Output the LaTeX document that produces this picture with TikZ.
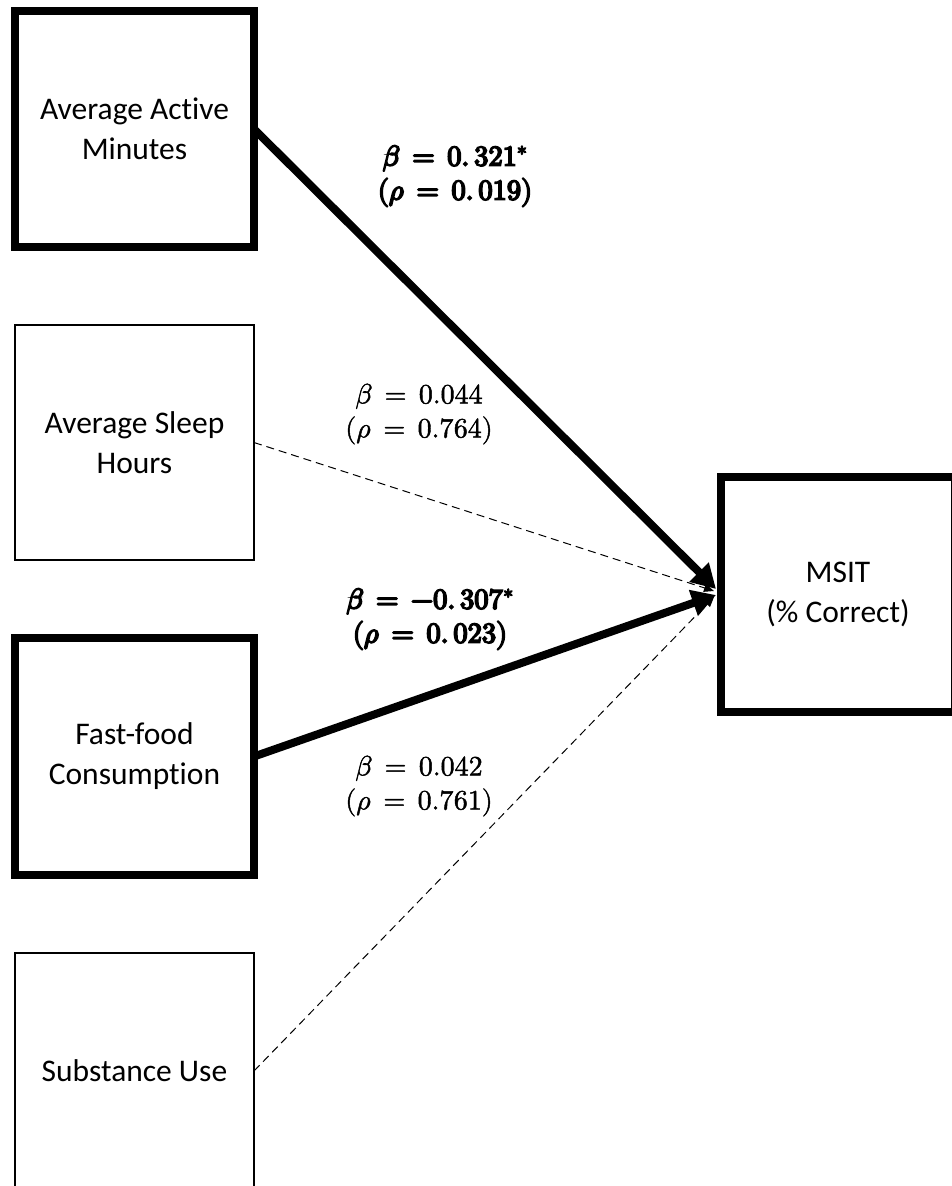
\documentclass[tikz,border=0pt]{standalone}
\usepackage{fontspec}
\usepackage{unicode-math}
\setmainfont{Carlito}[Ligatures=NoCommon]
\setmathfont{latinmodern-math.otf}[FakeBold=1.5]
\setmathfont{latinmodern-math.otf}[version=bold,FakeBold=6]
\usetikzlibrary{arrows.meta}
\newcommand{\wideeq}{\thickmuskip=8mu\relax}
\begin{document}
\begin{tikzpicture}[x=1pt,y=-1pt,
  varbox/.style={draw=black, rectangle, minimum width=239pt, align=center,
    inner sep=0pt, outer sep=0pt, font=\fontsize{31.5}{40}\selectfont},
  thickbox/.style={varbox, line width=8pt},
  thinbox/.style={varbox, line width=2pt},
  sigpath/.style={line width=8pt, -{Triangle[length=24pt,width=26pt]}},
  nspath/.style={line width=1pt, dash pattern=on 8pt off 5pt, -{Triangle[length=10pt,width=8pt]}},
  coef/.style={align=center, inner sep=0pt, font=\fontsize{28}{34}\selectfont\wideeq},
  coefbold/.style={coef, font=\fontsize{28.5}{34}\selectfont\boldmath\wideeq}]
\useasboundingbox (0,0) rectangle (951,1186);
\node[thickbox, minimum height=236pt] (b1) at (134.5,129) {Average Active\\Minutes};
\node[thinbox, minimum height=235pt] (b2) at (134.5,442.5) {Average Sleep\\Hours};
\node[thickbox, minimum height=237pt] (b3) at (134.5,756.5) {Fast-food\\Consumption};
\node[thinbox, minimum height=236pt] (b4) at (134.5,1071) {Substance Use};
\node[thickbox, minimum width=234pt, minimum height=235pt] (msit) at (838,594.5) {MSIT\\(\% Correct)};
\coordinate (t1) at (716,589);
\coordinate (t2) at (714,591);
\coordinate (t3) at (716,595);
\coordinate (t4) at (714,597);
\draw[nspath] (b2.east) -- (t2);
\draw[nspath] (b4.east) -- (t4);
\draw[sigpath] (b1.east) -- (t1);
\draw[sigpath] (b3.east) -- (t3);
\node[coefbold] (l1) at (455,176) {$\beta = 0.\,321^{*}$\\$(\rho = 0.\,019)$};
\node[coef] (l2) at (419,414) {$\beta = 0.044$\\$(\rho = 0.764)$};
\node[coefbold] (l3) at (430,619) {$\beta = -0.\,307^{*}$\\$(\rho = 0.\,023)$};
\node[coef] (l4) at (419,786) {$\beta = 0.042$\\$(\rho = 0.761)$};
\end{tikzpicture}
\end{document}
